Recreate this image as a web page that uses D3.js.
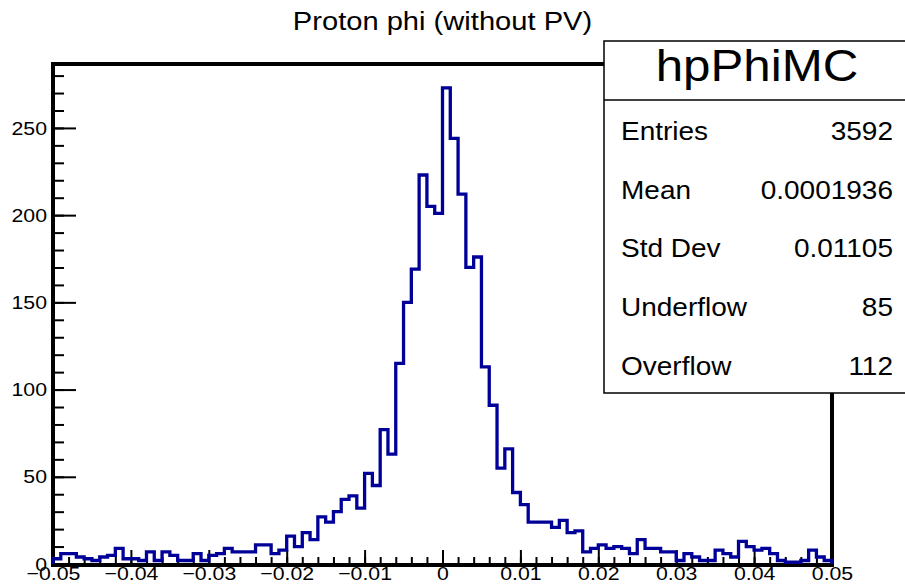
<!DOCTYPE html>
<html>
<head>
<meta charset="utf-8">
<script src="https://cdn.jsdelivr.net/npm/d3@7"></script>
<style>
  body { margin: 0; background: #fff; }
  svg { display: block; }
  text { font-family: "Liberation Sans", Arial, Helvetica, sans-serif; fill: #000; }
</style>
</head>
<body>
<svg id="chart"></svg>
<script>

// histogram hpPhiMC, 100 bins on [-0.05, 0.05]
const chartTitle = "Proton phi (without PV)"
const histName = "hpPhiMC"
const xLow = -0.05, xHigh = 0.05
const counts = [
   3,  6,  6,  4,  3,  2,  4,  5,  9,  3,
   3,  2,  7,  2,  7,  5,  2,  2,  6,  2,
   5,  6,  9,  7,  7,  7, 11, 11,  6,  8,
  16, 10, 18, 14, 27, 24, 30, 37, 39, 32,
  52, 45, 77, 63,115,150,169,223,205,201,
 273,244,212,170,176,113, 91, 55, 66, 41,
  34, 24, 24, 24, 21, 25, 18, 19,  7,  9,
  11,  9, 10,  9,  6, 14,  9,  9,  7,  7,
   2,  6,  4,  2,  2,  8,  6,  4, 13, 10,
   8,  9,  6,  2,  1,  1,  2,  8,  4,  2
]
const statLabels = ["Entries", "Mean", "Std Dev", "Underflow", "Overflow"]
const statValues = ["3592", "0.0001936", "0.01105", "85", "112"]
const xMajorStep = 0.01, xMinorStep = 0.002
const yMajorTicks = [0, 50, 100, 150, 200, 250]
const yMinorStep = 10

const width = 905, height = 587
const frame = {left: 53, right: 832, top: 64, bottom: 565}
const sx = 1.12   // the reference canvas is stretched a bit horizontally

const svg = d3.select("#chart")
              .attr("width", width)
              .attr("height", height)

const x = d3.scaleLinear()
            .domain([xLow, xHigh])
            .range([frame.left, frame.right])

const yMax = d3.max(counts) * 1.05
const y = d3.scaleLinear()
            .domain([0, yMax])
            .range([frame.bottom - 1, frame.top])

// title
svg.append("text")
   .attr("transform", `translate(${(frame.left + frame.right) / 2},30) scale(${sx},1)`)
   .attr("text-anchor", "middle")
   .style("font-size", "26px")
   .text(chartTitle)

// frame
svg.append("rect")
   .attr("x", frame.left)
   .attr("y", frame.top)
   .attr("width", frame.right - frame.left)
   .attr("height", frame.bottom - frame.top)
   .attr("fill", "none")
   .attr("stroke", "#000")
   .attr("stroke-width", 4)

// x axis
const binW = (xHigh - xLow) / counts.length
const xMinor = d3.range(0, Math.round((xHigh - xLow) / xMinorStep) + 1).map(i => xLow + i * xMinorStep)
const xMajor = d3.range(0, Math.round((xHigh - xLow) / xMajorStep) + 1).map(i => +(xLow + i * xMajorStep).toFixed(3))

const gxMinor = svg.append("g")
   .attr("transform", `translate(0,${frame.bottom})`)
   .call(d3.axisBottom(x).tickValues(xMinor).tickSize(-8).tickFormat(""))
const gx = svg.append("g")
   .attr("transform", `translate(0,${frame.bottom})`)
   .call(d3.axisBottom(x).tickValues(xMajor).tickSize(-15).tickPadding(2)
           .tickFormat(d => d === 0 ? "0" : d3.format("")(d)))

gx.selectAll("text")
  .style("font-size", "19px")
  .attr("transform", `scale(${sx},1)`)

// y axis
const yMinor = d3.range(0, Math.floor(yMax / yMinorStep) + 1).map(i => i * yMinorStep)
const gyMinor = svg.append("g")
   .attr("transform", `translate(${frame.left},0)`)
   .call(d3.axisLeft(y).tickValues(yMinor).tickSize(-11).tickFormat(""))
const gy = svg.append("g")
   .attr("transform", `translate(${frame.left},0)`)
   .call(d3.axisLeft(y).tickValues(yMajorTicks).tickSize(-23).tickPadding(6 / sx))

gy.selectAll("text")
  .style("font-size", "19px")
  .attr("transform", `scale(${sx},1)`)

for (const g of [gx, gxMinor, gy, gyMinor]) {
  g.select(".domain").remove()
  g.selectAll("line").attr("stroke", "#000").attr("stroke-width", 2)
}

// histogram outline
const pts = [{x: xLow, c: 0}]
counts.forEach((c, i) => pts.push({x: xLow + i * binW, c: c}))
pts.push({x: xHigh, c: 0})

const line = d3.line()
               .x(d => x(d.x))
               .y(d => y(d.c))
               .curve(d3.curveStepAfter)

svg.append("path")
   .datum(pts)
   .attr("d", line)
   .attr("fill", "none")
   .attr("stroke", "#000099")
   .attr("stroke-width", 3.3)

// stats box
const box = {x: 604, y: 41, w: 320, h: 352, header: 59, row: 58.7}
const sb = svg.append("g")
sb.append("rect")
  .attr("x", box.x)
  .attr("y", box.y)
  .attr("width", box.w)
  .attr("height", box.h)
  .attr("fill", "#fff")
  .attr("stroke", "#000")
  .attr("stroke-width", 1.5)
sb.append("line")
  .attr("x1", box.x).attr("x2", box.x + box.w)
  .attr("y1", box.y + box.header).attr("y2", box.y + box.header)
  .attr("stroke", "#000")
  .attr("stroke-width", 1.5)
sb.append("text")
  .attr("transform", `translate(757,81) scale(${sx},1)`)
  .attr("text-anchor", "middle")
  .style("font-size", "44px")
  .text(histName)

statLabels.forEach((lab, i) => {
  const yy = 140 + i * box.row
  sb.append("text")
    .attr("transform", `translate(621,${yy}) scale(${sx},1)`)
    .style("font-size", "25px")
    .text(lab)
  sb.append("text")
    .attr("transform", `translate(893,${yy}) scale(${sx},1)`)
    .attr("text-anchor", "end")
    .style("font-size", "25px")
    .text(statValues[i])
})
</script>
</body>
</html>
